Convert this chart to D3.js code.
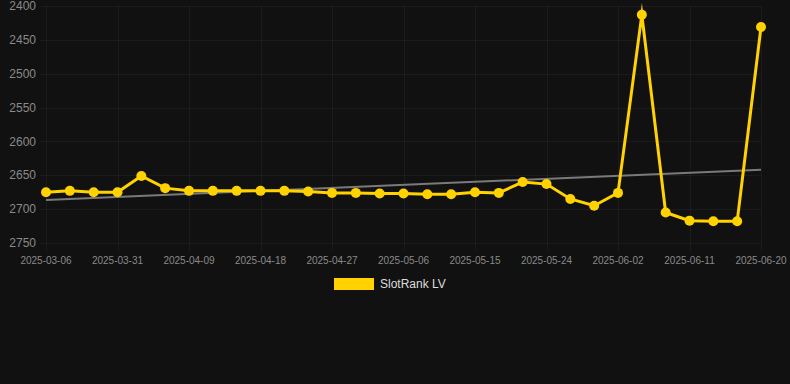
<!DOCTYPE html>
<html>
<head>
<meta charset="utf-8">
<script src="https://cdn.jsdelivr.net/npm/d3@7/dist/d3.min.js"></script>
<style>
  html, body { margin: 0; padding: 0; background: #111111; }
  svg { display: block; }
</style>
</head>
<body>
<div id="chart"></div>
<script>
// dates for every point (only every 3rd one gets a label)
const dates = [
  '2025-03-06', '2025-03-25', '2025-03-28', '2025-03-31', '2025-04-03', '2025-04-06',
  '2025-04-09', '2025-04-12', '2025-04-15', '2025-04-18', '2025-04-21', '2025-04-24',
  '2025-04-27', '2025-04-30', '2025-05-03', '2025-05-06', '2025-05-09', '2025-05-12',
  '2025-05-15', '2025-05-18', '2025-05-21', '2025-05-24', '2025-05-27', '2025-05-30',
  '2025-06-02', '2025-06-05', '2025-06-08', '2025-06-11', '2025-06-14', '2025-06-17',
  '2025-06-20'
];
const rank = [
  2675, 2673, 2675, 2675, 2651, 2669,
  2673, 2673, 2673, 2673, 2673, 2674,
  2676, 2676, 2677, 2677, 2678, 2678,
  2675, 2676, 2660, 2663, 2685, 2695,
  2676, 2413, 2705, 2717, 2718, 2718,
  2431
];
const trend = [2686.5, 2641.8];   // start / end of the trend line
const yTicks = [2400, 2450, 2500, 2550, 2600, 2650, 2700, 2750];
const seriesName = 'SlotRank LV';

const width = 790, height = 384;
const margin = { top: 6, right: 29, bottom: 141, left: 46 };
const gold = '#ffd200';

const svg = d3.select('#chart').append('svg')
  .attr('width', width)
  .attr('height', height)
  .style('background-color', '#111111')
  .style('font-family', 'Liberation Sans, Arial, sans-serif');

const x = d3.scalePoint().domain(dates).range([margin.left, width - margin.right]);
const y = d3.scaleLinear().domain([2400, 2750]).range([margin.top, height - margin.bottom]);

const labelled = dates.filter((d, i) => i % 3 === 0);

// grid
const grid = svg.append('g').attr('stroke', 'rgba(255,255,255,0.045)').attr('stroke-width', 1);
grid.selectAll('.hg').data(yTicks).enter().append('line')
  .attr('x1', margin.left - 6).attr('x2', width - margin.right)
  .attr('y1', d => Math.round(y(d)) + 0.5).attr('y2', d => Math.round(y(d)) + 0.5);
grid.selectAll('.vg').data(labelled).enter().append('line')
  .attr('y1', margin.top).attr('y2', height - margin.bottom + 8)
  .attr('x1', d => Math.round(x(d)) + 0.5).attr('x2', d => Math.round(x(d)) + 0.5);

// y axis labels
svg.append('g').selectAll('text').data(yTicks).enter().append('text')
  .attr('x', margin.left - 10)
  .attr('y', d => y(d))
  .attr('dy', '0.35em')
  .attr('text-anchor', 'end')
  .attr('fill', '#8a8a8a')
  .style('font-size', '12px')
  .text(d => d);

// x axis labels
svg.append('g').selectAll('text').data(labelled).enter().append('text')
  .attr('x', d => x(d))
  .attr('y', height - margin.bottom + 17)
  .attr('dy', '0.35em')
  .attr('text-anchor', 'middle')
  .attr('fill', '#8a8a8a')
  .style('font-size', '10px')
  .text(d => d);

// trend line
const first = dates[0], last = dates[dates.length - 1];
svg.append('line')
  .attr('x1', x(first)).attr('y1', y(trend[0]))
  .attr('x2', x(last)).attr('y2', y(trend[1]))
  .attr('stroke', '#7a7a7a')
  .attr('stroke-width', 2);

// series
const line = d3.line()
  .x((d, i) => x(dates[i]))
  .y(d => y(d));

svg.append('path')
  .datum(rank)
  .attr('d', line)
  .attr('fill', 'none')
  .attr('stroke', gold)
  .attr('stroke-width', 3)
  .attr('stroke-linejoin', 'miter')
  .attr('stroke-miterlimit', 20);

svg.append('g').selectAll('circle').data(rank).enter().append('circle')
  .attr('cx', (d, i) => x(dates[i]))
  .attr('cy', d => y(d))
  .attr('r', 5)
  .attr('fill', gold);

// legend
const legend = svg.append('g');
legend.append('rect')
  .attr('x', 334).attr('y', 278)
  .attr('width', 40).attr('height', 12)
  .attr('fill', gold);
legend.append('text')
  .attr('x', 380).attr('y', 284)
  .attr('dy', '0.35em')
  .attr('fill', '#dddddd')
  .style('font-size', '12px')
  .text(seriesName);
</script>
</body>
</html>
